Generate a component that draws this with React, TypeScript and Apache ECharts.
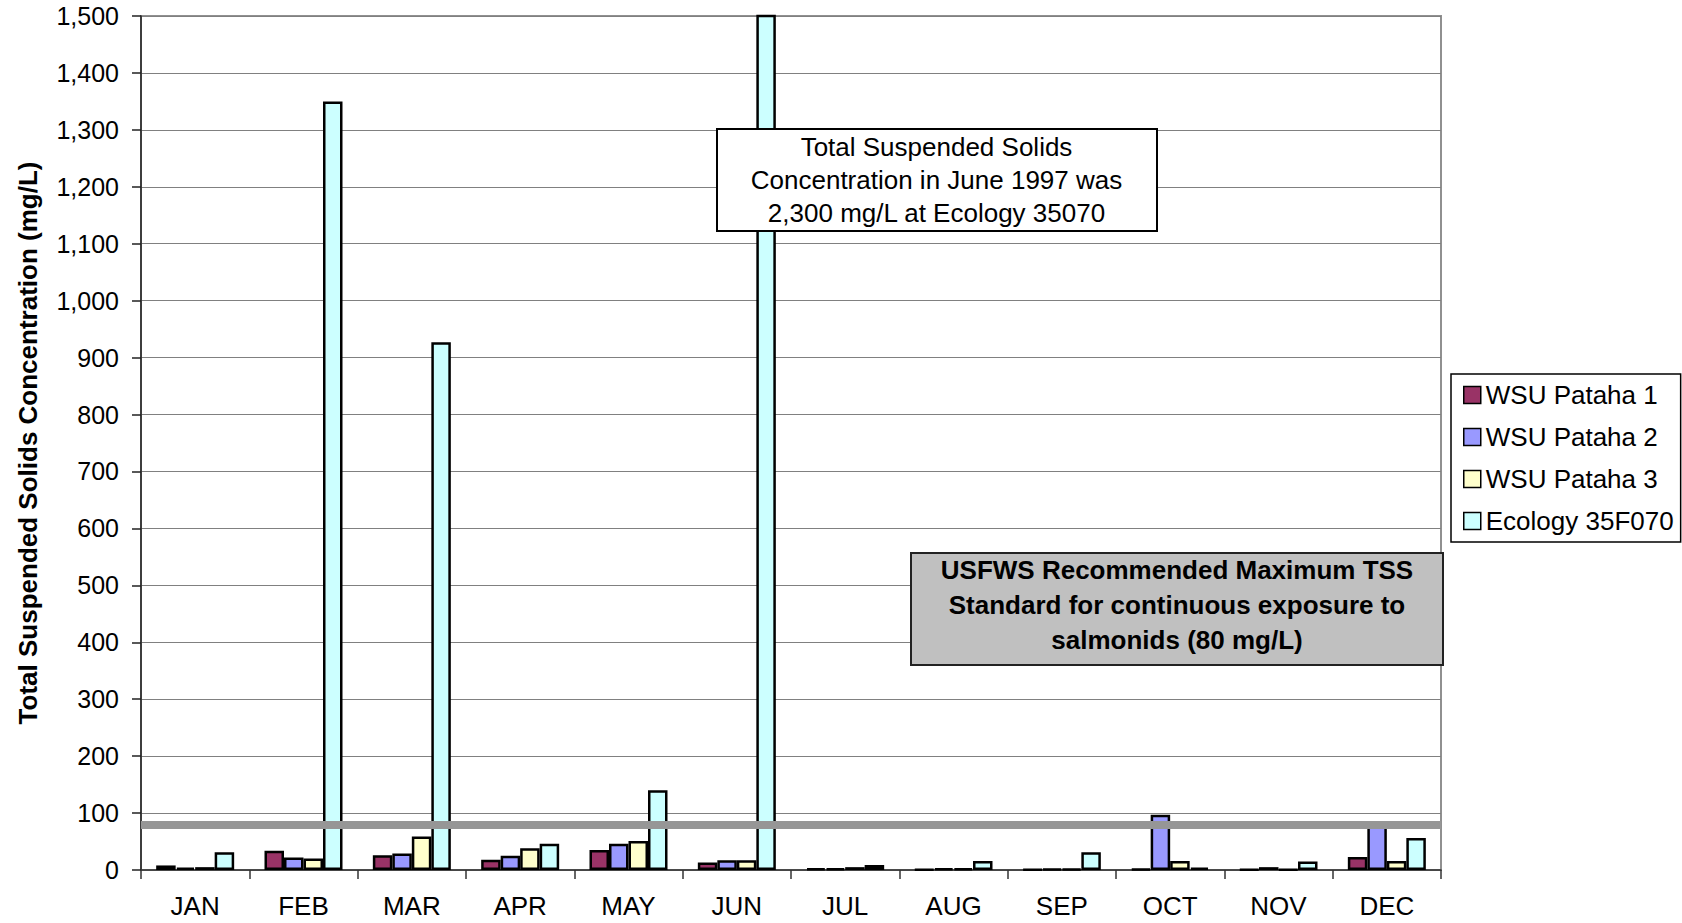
import React, { useEffect, useRef } from "react";
import * as echarts from "echarts";

const months = ["JAN", "FEB", "MAR", "APR", "MAY", "JUN", "JUL", "AUG", "SEP", "OCT", "NOV", "DEC"];
const pataha1 = [8, 34, 26, 18, 35, 13, 3, 1, 1, 2, 1, 23];
const pataha2 = [4, 22, 29, 25, 46, 17, 3, 3, 2, 97, 5, 80];
const pataha3 = [5, 20, 59, 38, 51, 17, 5, 3, 2, 16, 1, 16];
const ecology = [31, 1350, 927, 46, 140, 2300, 9, 16, 31, 4, 15, 56];
const seriesNames = ["WSU Pataha 1", "WSU Pataha 2", "WSU Pataha 3", "Ecology 35F070"];
const seriesColors = ["#993366", "#9999FF", "#FFFFCC", "#CCFFFF"];
const usfwsStandard = 80;
const yMin = 0;
const yMax = 1500;
const yInterval = 100;

const FONT = "'Liberation Sans', Arial, sans-serif";

export default function App() {
  const ref = useRef<HTMLDivElement>(null);

  useEffect(() => {
    if (!ref.current) return;
    const chart = echarts.init(ref.current, undefined, { renderer: "svg" });
    const dataSets = [pataha1, pataha2, pataha3, ecology];

    const barSeries = dataSets.map((d, i) => ({
      name: seriesNames[i],
      type: "bar",
      data: d,
      barWidth: 19.5,
      barGap: "0%",
      itemStyle: { color: seriesColors[i], borderColor: "#000", borderWidth: 2.5 },
      z: 2,
    }));

    chart.setOption({
      animation: false,
      textStyle: { fontFamily: FONT },
      grid: {
        left: 141,
        right: 241,
        top: 16,
        bottom: 53,
        show: true,
        borderColor: "#909090",
        borderWidth: 2,
        backgroundColor: "transparent",
      },
      legend: {
        data: seriesNames,
        orient: "vertical",
        left: 1451,
        top: 374,
        padding: [8, 7, 8, 12],
        itemGap: 16,
        itemWidth: 17,
        itemHeight: 17,
        icon: "rect",
        backgroundColor: "#fff",
        borderColor: "#000",
        borderWidth: 1.5,
        borderRadius: 0,
        itemStyle: { borderColor: "#000", borderWidth: 1.5 },
        textStyle: { fontSize: 26, color: "#000", fontFamily: FONT, lineHeight: 26, padding: [0, 0, 0, 0] },
      },
      xAxis: {
        type: "category",
        data: months,
        axisLine: { show: true, lineStyle: { color: "#333", width: 1.5 } },
        axisTick: { show: true, length: 9, lineStyle: { color: "#333", width: 1.5 } },
        axisLabel: { color: "#000", fontSize: 26, margin: 23, fontFamily: FONT, lineHeight: 26 },
        splitLine: { show: false },
      },
      yAxis: {
        type: "value",
        min: yMin,
        max: yMax,
        interval: yInterval,
        name: "Total Suspended Solids Concentration (mg/L)",
        nameLocation: "middle",
        nameRotate: 90,
        nameGap: 100,
        nameTextStyle: { fontSize: 26, fontWeight: "bold", color: "#000", fontFamily: FONT },
        axisLine: { show: true, lineStyle: { color: "#222", width: 1.5 } },
        axisTick: { show: true, length: 9, lineStyle: { color: "#222", width: 1.5 } },
        axisLabel: {
          color: "#000",
          fontSize: 25,
          margin: 22,
          fontFamily: FONT,
          formatter: (v: number) => v.toLocaleString("en-US"),
        },
        splitLine: { show: true, lineStyle: { color: "#808080", width: 1 } },
      },
      series: [
        ...barSeries,
        {
          name: "USFWS standard",
          type: "line",
          data: [],
          z: 10,
          markLine: {
            silent: true,
            symbol: ["none", "none"],
            label: { show: false },
            lineStyle: { color: "#969696", width: 8, type: "solid" },
            data: [{ yAxis: usfwsStandard }],
          },
        },
      ],
      graphic: [
        {
          type: "rect",
          z: 100,
          shape: { x: 717, y: 129, width: 440, height: 102 },
          style: { fill: "#fff", stroke: "#000", lineWidth: 2 },
        },
        {
          type: "text",
          z: 101,
          x: 936.5,
          y: 180,
          style: {
            text: "Total Suspended Solids\nConcentration in June 1997 was\n2,300 mg/L at Ecology 35070",
            fontSize: 26,
            fontFamily: FONT,
            fill: "#000",
            align: "center",
            verticalAlign: "middle",
            lineHeight: 33,
          },
        },
        {
          type: "rect",
          z: 100,
          shape: { x: 911, y: 553, width: 532, height: 112 },
          style: { fill: "#C0C0C0", stroke: "#222", lineWidth: 2 },
        },
        {
          type: "text",
          z: 101,
          x: 1177,
          y: 605,
          style: {
            text: "USFWS Recommended Maximum TSS\nStandard for continuous exposure to\nsalmonids (80 mg/L)",
            fontSize: 26,
            fontWeight: "bold",
            fontFamily: FONT,
            fill: "#000",
            align: "center",
            verticalAlign: "middle",
            lineHeight: 35,
          },
        },
      ],
    });

    return () => {
      chart.dispose();
    };
  }, []);

  return (
    <div
      ref={ref}
      style={{ position: "fixed", left: 0, top: 0, width: 1682, height: 923, background: "#fff" }}
    />
  );
}
